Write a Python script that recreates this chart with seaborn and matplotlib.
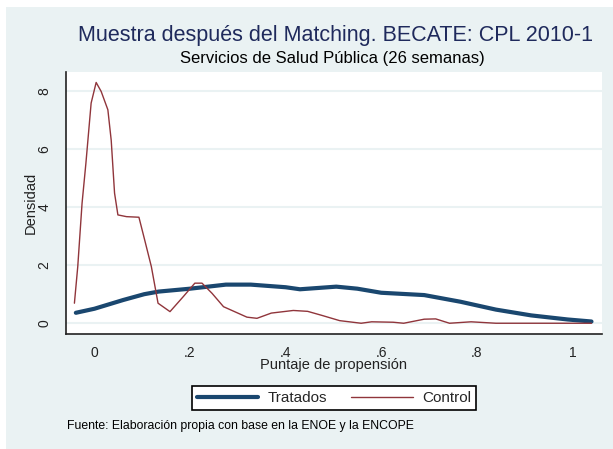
import matplotlib
matplotlib.use("Agg")
import matplotlib.pyplot as plt
from matplotlib.patches import Rectangle
import pandas as pd
import seaborn as sns

# Kernel density of the propensity score, treated vs. matched controls
trat_x = [-0.039, 0.0, 0.06, 0.104, 0.134, 0.2, 0.275, 0.327, 0.4, 0.43, 0.506,
          0.55, 0.6, 0.69, 0.766, 0.84, 0.914, 0.99, 1.04]
trat_y = [0.36, 0.50, 0.80, 1.00, 1.09, 1.19, 1.33, 1.33, 1.24, 1.17, 1.26,
          1.19, 1.05, 0.97, 0.74, 0.47, 0.27, 0.13, 0.06]

ctrl_x = [-0.042, -0.035, -0.026, -0.018, -0.007, 0.0035, 0.014, 0.028, 0.035,
          0.042, 0.049, 0.067, 0.093, 0.105, 0.119, 0.133, 0.158, 0.186, 0.21,
          0.225, 0.246, 0.27, 0.319, 0.34, 0.37, 0.416, 0.446, 0.476, 0.513,
          0.558, 0.58, 0.625, 0.647, 0.69, 0.714, 0.743, 0.788, 0.84, 1.04]
ctrl_y = [0.69, 1.95, 4.13, 5.50, 7.58, 8.29, 7.98, 7.35, 6.30,
          4.48, 3.73, 3.67, 3.65, 2.87, 1.95, 0.69, 0.40, 0.92, 1.38,
          1.38, 1.03, 0.57, 0.21, 0.17, 0.35, 0.44, 0.41, 0.27, 0.09,
          0.0, 0.05, 0.035, 0.0, 0.14, 0.15, 0.0, 0.05, 0.0, 0.0]

x_ticks = [0, 0.2, 0.4, 0.6, 0.8, 1.0]
x_tick_labels = ["0", ".2", ".4", ".6", ".8", "1"]
y_ticks = [0, 2, 4, 6, 8]
y_tick_labels = ["0", "2", "4", "6", "8"]

series_names = ["Tratados", "Control"]
series_colors = ["#1A476F", "#90353B"]

title = "Muestra después del Matching. BECATE: CPL 2010-1"
subtitle = "Servicios de Salud Pública (26 semanas)"
x_label = "Puntaje de propensión"
y_label = "Densidad"
note = "Fuente: Elaboración propia con base en la ENOE y la ENCOPE"

df_trat = pd.DataFrame({"x": trat_x, "y": trat_y})
df_ctrl = pd.DataFrame({"x": ctrl_x, "y": ctrl_y})

sns.set_theme(style="white")
plt.rcParams["font.family"] = ["Liberation Sans", "DejaVu Sans"]

W, H = 613, 449
BG = "#EAF2F3"
fig = plt.figure(figsize=(W / 100, H / 100), dpi=100)
fig.patch.set_facecolor("white")
fig.patches.append(Rectangle((6 / W, 0), 1 - 6 / W, 1 - 7 / H,
                             transform=fig.transFigure, facecolor=BG,
                             edgecolor="none", zorder=-10))

ax = fig.add_axes([66 / W, 1 - 334 / H, (602 - 66) / W, (334 - 72) / H])
ax.set_zorder(1)
ax.set_facecolor("white")

sns.lineplot(data=df_trat, x="x", y="y", ax=ax, sort=False, estimator=None,
             color=series_colors[0], linewidth=3.0, label=series_names[0])
sns.lineplot(data=df_ctrl, x="x", y="y", ax=ax, sort=False, estimator=None,
             color=series_colors[1], linewidth=1.0, label=series_names[1])

ax.set_xlim(-0.0596, 1.062)
ax.set_ylim(-0.37, 8.65)
ax.set_xticks(x_ticks)
ax.set_xticklabels(x_tick_labels)
ax.set_yticks(y_ticks)
ax.set_yticklabels(y_tick_labels, rotation=90, va="center")

for y in y_ticks:
    ax.axhline(y, color=BG, linewidth=1.5, zorder=0)

for side in ["top", "right"]:
    ax.spines[side].set_visible(False)
for side in ["left", "bottom"]:
    ax.spines[side].set_color("#222222")
    ax.spines[side].set_linewidth(1.2)

ax.tick_params(axis="both", which="major", direction="out", length=4.5,
               width=1.0, color="#222222", labelsize=10, labelcolor="#222222")
ax.tick_params(axis="x", pad=4)
ax.tick_params(axis="y", pad=6)

ax.set_xlabel(x_label, fontsize=10.5, color="#222222", labelpad=-1)
ax.set_ylabel(y_label, fontsize=10.5, color="#222222", labelpad=0)

handles, labels = ax.get_legend_handles_labels()
ax.get_legend().remove()
leg = fig.legend(handles, labels, loc="center", bbox_to_anchor=(334 / W, 1 - 398 / H),
                 ncol=2, frameon=True, fancybox=False, edgecolor="black",
                 facecolor="white", framealpha=1, fontsize=11, handlelength=4.0,
                 handletextpad=0.6, columnspacing=1.6, borderpad=0.35)
leg.get_frame().set_linewidth(1.2)

fig.text(335 / W, 1 - 36 / H, title, ha="center", va="center", fontsize=15.5,
         color="#1F2A5C")
fig.text(332 / W, 1 - 58 / H, subtitle, ha="center", va="center", fontsize=12,
         color="black")
fig.text(67 / W, 1 - 426 / H, note, ha="left", va="center", fontsize=8.8,
         color="black")

fig.savefig("out.png", dpi=100, facecolor=fig.get_facecolor())
